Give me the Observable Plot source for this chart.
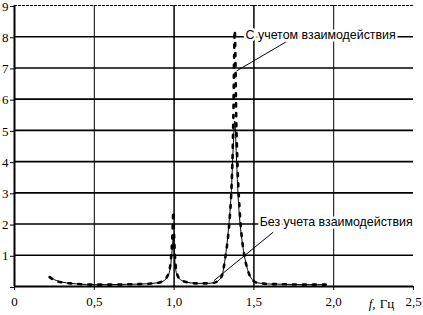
<!DOCTYPE html>
<html><head><meta charset="utf-8">
<script src="https://cdn.jsdelivr.net/npm/d3@7"></script>
<script src="https://cdn.jsdelivr.net/npm/@observablehq/plot@0.6"></script>
<style>body{margin:0;background:#fff} svg text{font-family:"Liberation Serif",serif}</style>
</head><body><div id="chart"></div>
<script>
const freq = [0.22,0.25,0.3,0.35,0.4, 0.5,0.6,0.7,0.8,0.9, 0.94,0.96,0.97,0.98,0.99, 0.995,1.0,1.01,1.02,1.04, 1.07,1.1,1.15,1.2,1.25, 1.28,1.30,1.32,1.34,1.35, 1.36,1.37,1.38,1.39,1.40, 1.41,1.42,1.44,1.46,1.49, 1.52,1.6,1.7,1.8,1.9, 1.95];
const withoutInteraction = [0.32,0.22,0.14,0.1,0.08, 0.06,0.06,0.07,0.08,0.12, 0.2,0.32,0.45,0.75,1.3, 1.65,1.2,0.55,0.35,0.22, 0.15,0.12,0.1,0.1,0.12, 0.2,0.35,0.9,1.8,2.4, 3.2,4.4,5.3,4.2,3.0, 2.2,1.7,1.0,0.55,0.22, 0.12,0.08,0.07,0.06,0.06, 0.06];
const withInteraction = [0.3,0.2,0.13,0.1,0.08, 0.06,0.06,0.07,0.08,0.12, 0.22,0.35,0.5,0.85,1.7, 2.4,1.6,0.65,0.38,0.22, 0.15,0.12,0.1,0.1,0.12, 0.2,0.35,0.9,1.7,2.3, 3.2,5.0,8.2,5.2,3.5, 2.5,1.8,1.0,0.55,0.22, 0.12,0.08,0.07,0.06,0.06, 0.06];

const xTicks = [0, 0.5, 1.0, 1.5, 2.0, 2.5];
const xTickLabels = ["0", "0,5", "1,0", "1,5", "2,0", "2,5"];
const yTicks = [0, 1, 2, 3, 4, 5, 6, 7, 8, 9];
const yGrid = [1, 2, 3, 4, 5, 6, 7, 8];
const yTop = [9];
const xGridThin = [0.5, 2.0];
const xGridThick = [1.0, 1.5];
const axisTitleItalic = "f,";
const axisTitleUnit = "Гц";

const seriesLabels = ["С учетом взаимодействия", "Без учета взаимодействия"];
const labelF = [1.448, 1.536];
const labelV = [8, 2];
const leaderF1 = [1.70, 1.621];
const leaderV1 = [7.83, 1.74];
const leaderF2 = [1.39, 1.25];
const leaderV2 = [6.9, 0.19];

const table = freq.map((f, i) => ({f, a: withoutInteraction[i], b: withInteraction[i]}));

const chart = Plot.plot({
  width: 423, height: 315,
  marginLeft: 14, marginRight: 10, marginTop: 5, marginBottom: 29,
  x: {domain: [0, 2.5], label: null},
  y: {domain: [0, 9], label: null},
  style: {fontFamily: "Liberation Serif", fontSize: "13px", background: "white"},
  marks: [
    Plot.ruleX(xGridThin, {stroke: "black", strokeWidth: 1}),
    Plot.ruleX(xGridThick, {stroke: "black", strokeWidth: 1.5}),
    Plot.ruleY(yGrid, {stroke: "black", strokeWidth: 1.6}),
    Plot.ruleY(yTop, {stroke: "black", strokeWidth: 1, strokeDasharray: "3,1"}),
    Plot.ruleY([0], {stroke: "black", strokeWidth: 2}),
    Plot.ruleX([0], {stroke: "black", strokeWidth: 2}),
    Plot.axisX(xTicks, {label: null, tickSize: 4, tickPadding: 6, tickFormat: d => xTickLabels[xTicks.indexOf(d)], fontSize: 13}),
    Plot.axisY(yTicks, {label: null, tickSize: 4, tickPadding: 2, tickFormat: d => (d === 0 ? "" : String(d)), fontSize: 13, dy: 1}),
    Plot.line(table, {x: "f", y: "a", curve: "monotone-x", stroke: "black", strokeWidth: 1}),
    Plot.line(table, {x: "f", y: "b", curve: "monotone-x", stroke: "black", strokeWidth: 2.6, strokeDasharray: "3,7"}),
    Plot.link(seriesLabels, {x1: leaderF1, y1: leaderV1, x2: leaderF2, y2: leaderV2, stroke: "black", strokeWidth: 1}),
    Plot.text(seriesLabels, {x: labelF, y: labelV, text: d => d, textAnchor: "start", dy: -2, fontFamily: "Liberation Sans", fontSize: 12.4, fill: "black", stroke: "white", strokeWidth: 5}),
    Plot.text([axisTitleItalic], {x: [2.219], y: [0], text: d => d, textAnchor: "start", dy: 17, fontStyle: "italic", fontSize: 13}),
    Plot.text([axisTitleUnit], {x: [2.288], y: [0], text: d => d, textAnchor: "start", dy: 17, fontSize: 13})
  ]
});
chart.querySelectorAll("text").forEach(t => {
  const g = t.closest("g[font-family]");
  if (g && g.getAttribute("font-family") === "Liberation Sans") t.style.fontFamily = "'Liberation Sans', sans-serif";
});
document.getElementById("chart").appendChild(chart);
</script>
</body></html>
